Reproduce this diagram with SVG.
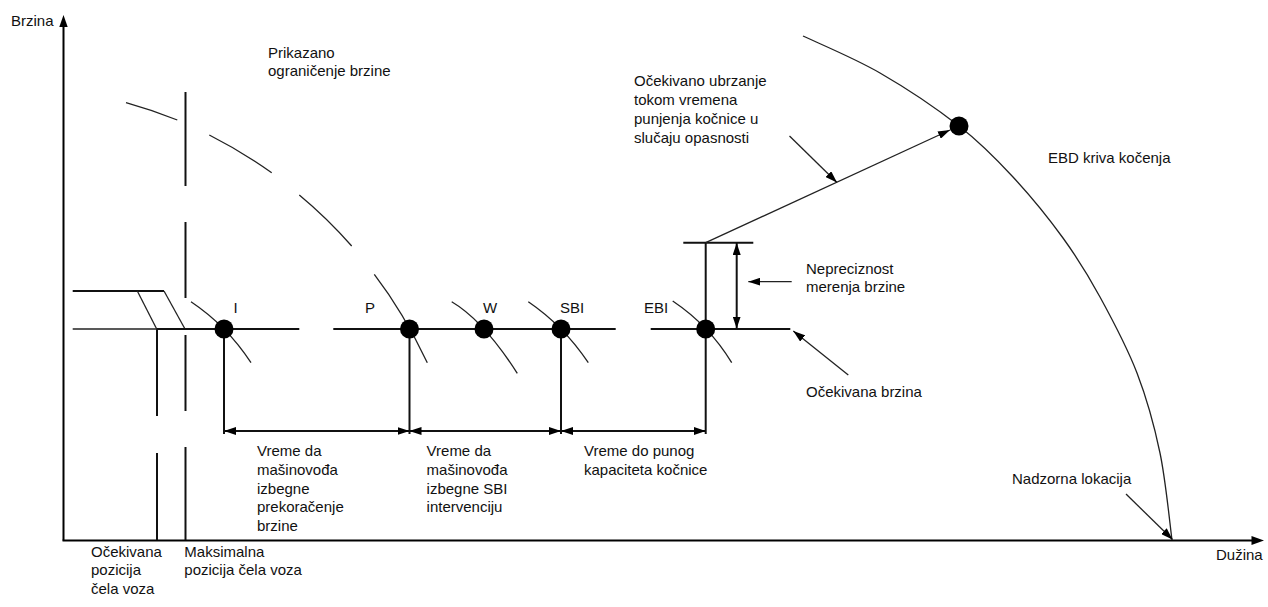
<svg xmlns="http://www.w3.org/2000/svg" width="1268" height="607" viewBox="0 0 1268 607">
<defs>
<style>
.ax{stroke:#000;stroke-width:2;fill:none}
.ln{stroke:#111;stroke-width:2;fill:none}
.th{stroke:#222;stroke-width:1.3;fill:none}
.dot{fill:#000}
.t{font-family:"Liberation Sans",Arial,sans-serif;font-size:15px;fill:#111}
</style>
<marker id="ah" viewBox="0 0 12 8" refX="12" refY="4" markerWidth="12" markerHeight="8" markerUnits="userSpaceOnUse" orient="auto-start-reverse">
<path d="M0,0 L12,4 L0,8 z" fill="#000"/>
</marker>
</defs>
<rect width="1268" height="607" fill="#fff"/>

<g id="axes">
<line class="ax" x1="63.5" y1="26" x2="63.5" y2="540.5"/>
<polygon points="63.5,15 59.3,27 67.7,27" fill="#000"/>
<line class="ax" x1="62.5" y1="540.5" x2="1252" y2="540.5"/>
<polygon points="1264,540.5 1251.5,536 1251.5,545" fill="#000"/>
<text class="t" x="11" y="26">Brzina</text>
<text class="t" x="1216" y="560">Dužina</text>
</g>

<g id="displayed-limit">
<path class="th" d="M126,102.7 Q152,110 177.3,120"/>
<path class="th" d="M209.3,135 Q241,151 271.7,172.7"/>
<path class="th" d="M299.3,195 Q327,218 351.7,246"/>
<text class="t" x="268" y="57.5">Prikazano</text>
<text class="t" x="268" y="76">ograničenje brzine</text>
</g>

<g id="train-front">
<line class="ln" x1="72.7" y1="291" x2="164" y2="291"/>
<line class="th" x1="137.3" y1="291" x2="156.7" y2="329"/>
<line class="th" x1="164" y1="291" x2="185" y2="329"/>
<line class="ln" x1="157" y1="329" x2="157" y2="416"/>
<line class="ln" x1="157" y1="453" x2="157" y2="540"/>
<line class="ln" x1="185.5" y1="92" x2="185.5" y2="186"/>
<line class="ln" x1="185.5" y1="222" x2="185.5" y2="298"/>
<line class="ln" x1="185.5" y1="335" x2="185.5" y2="411"/>
<line class="ln" x1="185.5" y1="447" x2="185.5" y2="540"/>
<text class="t" x="91" y="557">Očekivana</text>
<text class="t" x="91" y="575.3">pozicija</text>
<text class="t" x="91" y="593.6">čela voza</text>
<text class="t" x="184.3" y="557">Maksimalna</text>
<text class="t" x="184.3" y="575.3">pozicija čela voza</text>
</g>

<g id="speed-lines">
<line class="th" x1="72.7" y1="329" x2="157" y2="329"/>
<line class="ln" x1="157" y1="329" x2="299.3" y2="329"/>
<line class="ln" x1="333.3" y1="329" x2="615.7" y2="329"/>
<line class="ln" x1="650.7" y1="329" x2="790.3" y2="329"/>
</g>

<g id="node-I">
<path class="th" d="M191,301.7 Q227,325.8 251,362.7"/>
<line class="ln" x1="224" y1="329" x2="224" y2="434"/>
<circle class="dot" cx="224" cy="329" r="9.5"/>
<text class="t" x="233.5" y="313">I</text>
</g>

<g id="node-P">
<path class="th" d="M374.3,274.3 Q403.5,312.5 427.3,362.7"/>
<line class="ln" x1="409.5" y1="329" x2="409.5" y2="434"/>
<circle class="dot" cx="409.5" cy="329" r="9.5"/>
<text class="t" x="365" y="313">P</text>
</g>

<g id="node-W">
<path class="th" d="M451.7,301.7 Q483.5,320.5 517.3,373.3"/>
<circle class="dot" cx="484" cy="329" r="9.5"/>
<text class="t" x="483" y="313">W</text>
</g>

<g id="node-SBI">
<path class="th" d="M528.3,301.7 Q563.7,325.8 588.3,362.7"/>
<line class="ln" x1="561" y1="329" x2="561" y2="434"/>
<circle class="dot" cx="561" cy="329" r="9.5"/>
<text class="t" x="560" y="313">SBI</text>
</g>

<g id="node-EBI">
<path class="th" d="M672.7,301 Q709.2,325.5 731.7,362.7"/>
<line class="ln" x1="705.7" y1="242.7" x2="705.7" y2="434"/>
<line class="ln" x1="683.3" y1="242.7" x2="753.3" y2="242.7"/>
<circle class="dot" cx="705.7" cy="329" r="9.5"/>
<text class="t" x="644" y="313">EBI</text>
</g>

<g id="ebd-curve">
<path class="th" d="M803,36 C815.8,42.2 854,58 880,73 C906,88 936.8,108.7 959,126 C981.2,143.3 995.7,158.3 1013,177 C1030.3,195.7 1048.5,218 1063,238 C1077.5,258 1087.7,274.5 1100,297 C1112.3,319.5 1127,347 1137,373 C1147,399 1154.2,425.2 1160,453 C1165.8,480.8 1170,525.5 1172,540"/>
<circle class="dot" cx="959" cy="126" r="9.5"/>
<text class="t" x="1048" y="163">EBD kriva kočenja</text>
<text class="t" x="1012" y="484">Nadzorna lokacija</text>
</g>

<g id="labels">
<text class="t" x="634" y="86">Očekivano ubrzanje</text>
<text class="t" x="634" y="105">tokom vremena</text>
<text class="t" x="634" y="124">punjenja kočnice u</text>
<text class="t" x="634" y="143">slučaju opasnosti</text>
<text class="t" x="806" y="273.5">Nepreciznost</text>
<text class="t" x="806" y="291.5">merenja brzine</text>
<text class="t" x="806" y="397">Očekivana brzina</text>
<text class="t" x="257" y="456">Vreme da</text>
<text class="t" x="257" y="474.75">mašinovođa</text>
<text class="t" x="257" y="493.5">izbegne</text>
<text class="t" x="257" y="512.25">prekoračenje</text>
<text class="t" x="257" y="531">brzine</text>
<text class="t" x="426.6" y="456">Vreme da</text>
<text class="t" x="426.6" y="474.75">mašinovođa</text>
<text class="t" x="426.6" y="493.5">izbegne SBI</text>
<text class="t" x="426.6" y="512.25">intervenciju</text>
<text class="t" x="584" y="456">Vreme do punog</text>
<text class="t" x="584" y="474.75">kapaciteta kočnice</text>
</g>

<g id="connectors">
<line class="ln" x1="224" y1="431" x2="409.5" y2="431" marker-start="url(#ah)" marker-end="url(#ah)"/>
<line class="ln" x1="409.5" y1="431" x2="561" y2="431" marker-start="url(#ah)" marker-end="url(#ah)"/>
<line class="ln" x1="561" y1="431" x2="705.7" y2="431" marker-start="url(#ah)" marker-end="url(#ah)"/>
<line class="ln" x1="736.7" y1="243" x2="736.7" y2="328.5" marker-start="url(#ah)" marker-end="url(#ah)"/>
<line class="th" x1="791.7" y1="281.7" x2="748.3" y2="281.7" marker-end="url(#ah)"/>
<line class="th" x1="705.7" y1="242.7" x2="950" y2="130" marker-end="url(#ah)"/>
<line class="th" x1="789.5" y1="136" x2="837" y2="182.5" marker-end="url(#ah)"/>
<line class="th" x1="848.3" y1="375" x2="793.3" y2="331" marker-end="url(#ah)"/>
<line class="th" x1="1126" y1="494" x2="1172.5" y2="539.5" marker-end="url(#ah)"/>
</g>
</svg>
